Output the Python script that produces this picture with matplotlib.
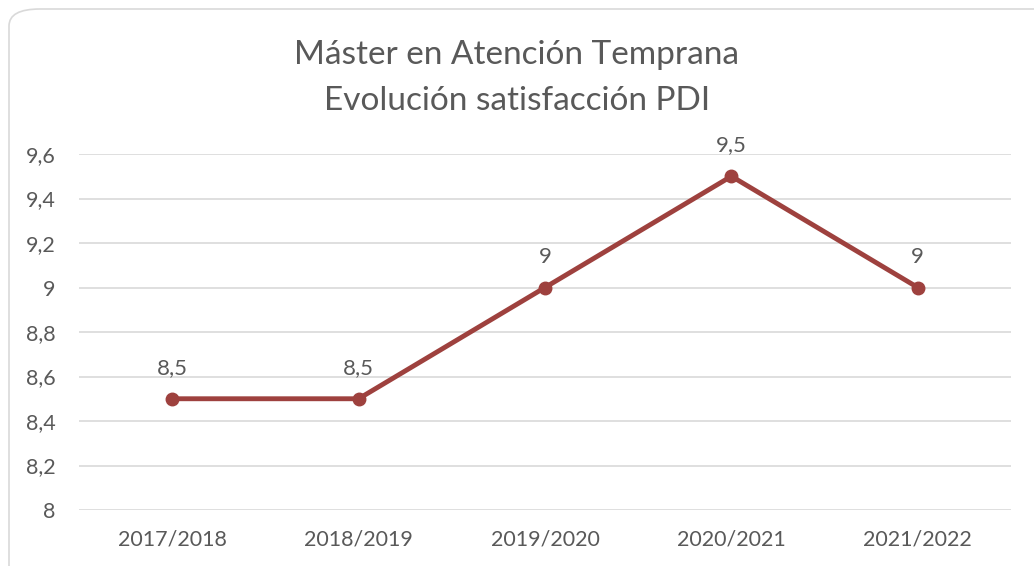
import matplotlib.pyplot as plt
from matplotlib.patches import FancyBboxPatch

# data
cursos = ["2017/2018", "2018/2019", "2019/2020", "2020/2021", "2021/2022"]
satisfaccion = [8.5, 8.5, 9.0, 9.5, 9.0]
yticks = [8.0, 8.2, 8.4, 8.6, 8.8, 9.0, 9.2, 9.4, 9.6]

plt.rcParams['font.family'] = ['Lato', 'DejaVu Sans']
gris = '#595959'
rojo = '#9E413E'

fig = plt.figure(figsize=(10.34, 5.66), dpi=100)

# rounded chart border
borde = FancyBboxPatch((9 / 1034, -0.05), 1.1, 1.05 - 9 / 566,
                       boxstyle="round,pad=0,rounding_size=0.03",
                       transform=fig.transFigure, fill=False,
                       edgecolor='#D9D9D9', linewidth=1.2, clip_on=False)
fig.patches.append(borde)

ax = fig.add_axes([79 / 1034, 1 - 510 / 566, (1011 - 79) / 1034, (510 - 154) / 566])
x = range(len(cursos))
ax.plot(x, satisfaccion, color=rojo, linewidth=3.5, marker='o', markersize=9,
        solid_capstyle='round')
for xi, v in zip(x, satisfaccion):
    txt = f"{v:g}".replace('.', ',')
    ax.annotate(txt, (xi, v), xytext=(0, 15), textcoords='offset points',
                ha='center', va='bottom', fontsize=16, color=gris)

ax.set_xlim(-0.5, len(cursos) - 0.5)
ax.set_ylim(8.0, 9.6)
ax.set_yticks(yticks)
ax.set_yticklabels([f"{t:g}".replace('.', ',') for t in yticks])
ax.set_xticks(list(x))
ax.set_xticklabels(cursos)
ax.tick_params(length=0, labelsize=15.5, labelcolor=gris, pad=14)
ax.tick_params(axis='y', pad=17)
ax.grid(axis='y', color='#D9D9D9', linewidth=1.2)
ax.set_axisbelow(True)
for s in ax.spines.values():
    s.set_visible(False)

fig.text(0.5, 1 - 55 / 566, "Máster en Atención Temprana", ha='center', va='center',
         fontsize=24, color=gris)
fig.text(0.5, 1 - 101 / 566, "Evolución satisfacción PDI", ha='center', va='center',
         fontsize=24, color=gris)

fig.savefig("out.png", dpi=100)
